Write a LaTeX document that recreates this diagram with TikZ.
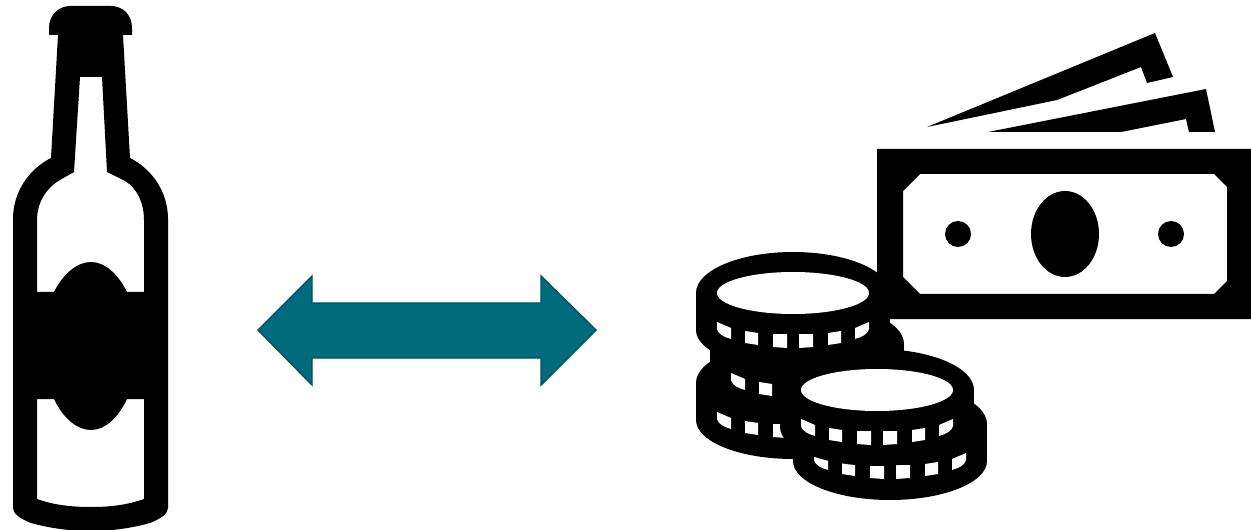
\documentclass[tikz,border=0pt]{standalone}
\usepackage{tikz}
\usepackage{xcolor}
\definecolor{arrowfill}{HTML}{006B7C}
\definecolor{arrowline}{HTML}{00505E}
\tikzset{icon/.style={fill=black, even odd rule}, hole/.style={fill=white}}
% one coin seen from above: body, then its rim marks
\newcommand{\coinbody}[2]{\begin{scope}[shift={(#1,#2)}]
\fill (0,0) ellipse (97 and 41);
\fill (-97,0) rectangle (97,37);
\fill (0,37) ellipse (97 and 39);
\foreach \xs in {-1,1} {
\fill[hole] (\xs*76,29) -- (\xs*62,35) -- (\xs*62,46) .. controls (\xs*69,44) and (\xs*75,41) .. (\xs*76,36) -- cycle;
\foreach \xa/\xb/\ya/\yb/\yc/\yd in {48/35/38/40/52/50, 20/6/41/41/55/54} {
\fill[hole] (\xs*\xa,\ya) -- (\xs*\xb,\yb) -- (\xs*\xb,\yc) -- (\xs*\xa,\yd) -- cycle;
}
}
\end{scope}}
\newcommand{\coinhole}[2]{\fill[hole] (#1,#2) ellipse (76 and 21);}

\begin{document}
\begin{tikzpicture}[x=0.02cm, y=-0.02cm]
\path[use as bounding box] (0,0) rectangle (1251,530);
% bottle
\path[icon] (49,35) -- (49,28) .. controls (49,14) and (60,6) .. (70,6) -- (111,6)
 .. controls (122,6) and (132,14) .. (132,28) -- (132,35) -- (123,35) -- (130,158)
 .. controls (152,169) and (168,192) .. (168,219) -- (168,508)
 .. controls (168,514) and (160,519) .. (150,523) .. controls (132,528) and (112,531) .. (91,531)
 .. controls (69,531) and (49,528) .. (31,523) .. controls (21,519) and (13,514) .. (13,508)
 -- (13,219) .. controls (13,192) and (29,169) .. (51,158) -- (58,35) -- cycle
 (80,77) -- (102,77) -- (107,172) -- (125,181) .. controls (137,188) and (144,203) .. (144,220)
 -- (144,292) -- (127,292) .. controls (118,274) and (105,262) .. (91,262)
 .. controls (77,262) and (63,274) .. (54,292) -- (37,292) -- (37,220)
 .. controls (37,203) and (46,188) .. (60,180) -- (74,172) -- cycle
 (37,399) -- (54,399) .. controls (63,418) and (77,430) .. (91,430)
 .. controls (105,430) and (118,418) .. (127,399) -- (144,399) -- (144,499)
 .. controls (127,505) and (110,507) .. (91,507) .. controls (71,507) and (54,505) .. (37,499) -- cycle;
% double arrow
\draw[arrowline, fill=arrowfill, line width=0.8pt] (258,330) -- (312,276) -- (312,303) -- (541,303) -- (541,276)
 -- (596,330) -- (541,385) -- (541,358) -- (312,358) -- (312,385) -- cycle;
% banknotes
\fill (927,127) -- (1155,33) -- (1173,77) -- (1147,83) -- (1141,67) -- (1057,100) -- cycle;
\fill (988,132) -- (1206,89) -- (1215,132) -- (1189,132) -- (1186,119) -- (1121,132) -- cycle;
\path[icon] (877,149) rectangle (1251,319)
 (920,174) -- (1214,174) -- (1227,187) -- (1227,281) -- (1214,294) -- (920,294) -- (903,277) -- (903,191) -- cycle;
\fill (1065,234) ellipse (34 and 43);
\fill (958,234) circle (13);
\fill (1171,234) circle (13);
% coins, back to front
\coinbody{793}{383}
\coinbody{807}{344}
\coinbody{890}{424}
\coinbody{877}{390}
\coinhole{877}{390}
\coinbody{793}{293}
\coinhole{793}{293}
\end{tikzpicture}
\end{document}
